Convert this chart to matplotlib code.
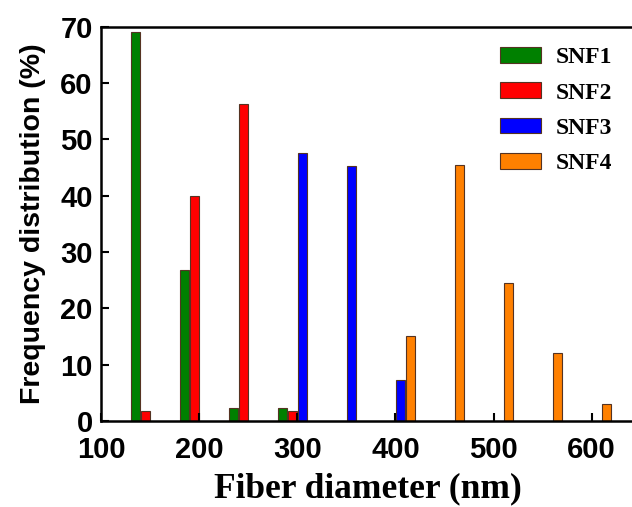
import matplotlib
matplotlib.use("Agg")
import matplotlib.pyplot as plt

# bin centres (nm) and distribution (%) per sample
snf1_x = [150, 200, 250, 300]
snf1_y = [69.0, 26.8, 2.2, 2.2]
snf2_x = [150, 200, 250, 300]
snf2_y = [1.8, 40.0, 56.3, 1.8]
snf3_x = [300, 350, 400]
snf3_y = [47.6, 45.2, 7.3]
snf4_x = [400, 450, 500, 550, 600]
snf4_y = [15.0, 45.5, 24.5, 12.0, 3.0]

series = [("SNF1", snf1_x, snf1_y, -15, "#008000"),
          ("SNF2", snf2_x, snf2_y, -5, "#FF0000"),
          ("SNF3", snf3_x, snf3_y, 5, "#0000FF"),
          ("SNF4", snf4_x, snf4_y, 15, "#FF8000")]

fig = plt.figure(figsize=(6.32, 5.07), dpi=100)
ax = fig.add_axes([0.16, 0.17, 0.843, 0.777])

for name, xs, ys, off, col in series:
    ax.bar([x + off for x in xs], ys, width=9.5, color=col,
           edgecolor="#553322", linewidth=0.8, label=name)

ax.set_xlim(100, 643)
ax.set_ylim(0, 70)
ax.set_xticks([100, 200, 300, 400, 500, 600])
ax.set_yticks(range(0, 71, 10))
ax.tick_params(direction="in", length=6, width=1.5, labelsize=21, pad=6)
ax.tick_params(axis="x", pad=11)
for lab in ax.get_xticklabels() + ax.get_yticklabels():
    lab.set_fontfamily("Liberation Sans")
    lab.set_fontweight("bold")
for s in ax.spines.values():
    s.set_linewidth(1.8)

ax.set_ylabel("Frequency distribution (%)", fontsize=20.5, fontweight="bold",
              family="Liberation Sans", labelpad=10)
ax.set_xlabel("Fiber diameter (nm)", fontsize=25.5, fontweight="bold",
              family="Liberation Serif", labelpad=6)

fig.legend(loc="upper left", bbox_to_anchor=(500 / 632, 1 - 47 / 507),
           frameon=False, borderpad=0, borderaxespad=0,
           handlelength=1.75, handleheight=0.65, handletextpad=0.6,
           labelspacing=0.6,
           prop={"family": "Liberation Serif", "weight": "bold", "size": 17})

fig.savefig("out.png", dpi=100)
